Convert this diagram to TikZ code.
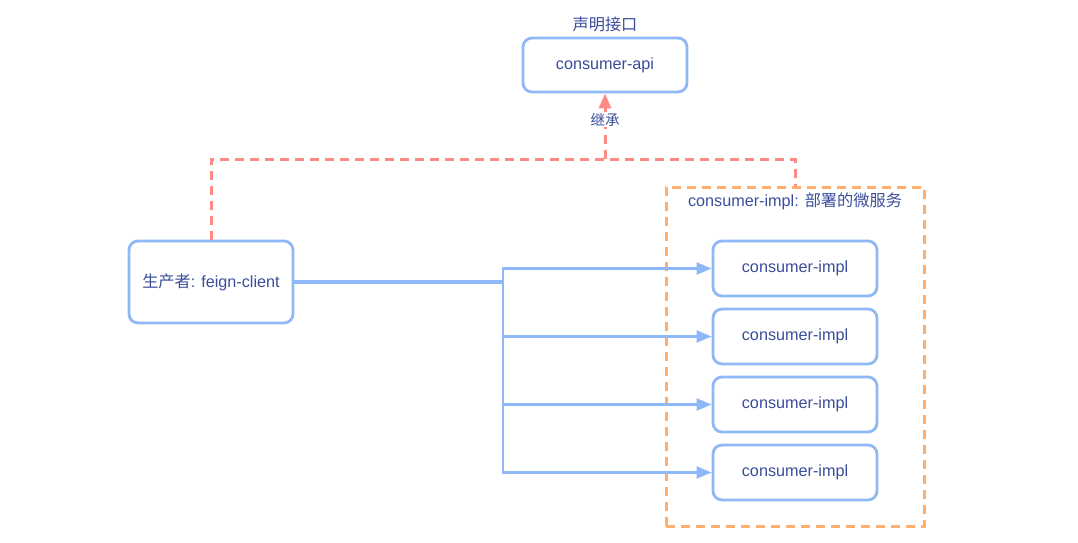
\documentclass[tikz,border=0pt]{standalone}
\usepackage{fontspec}
\setmainfont{Liberation Sans}
\newfontfamily\cjk{Noto Sans CJK SC}
\usetikzlibrary{arrows.meta,positioning}
\definecolor{bl}{HTML}{8FB8F8}
\definecolor{rd}{HTML}{FF8A85}
\definecolor{og}{HTML}{FFAE6B}
\definecolor{tx}{HTML}{3A4D9A}
\tikzset{
  box/.style={draw=bl, line width=2.8pt, rounded corners=9pt, fill=white, text=tx,
    font=\fontsize{16.2}{19}\selectfont, inner sep=0pt},
  lbl/.style={text=tx, font=\fontsize{16.2}{19}\selectfont, inner sep=1pt},
  tip/.style={-{Triangle[length=15pt,width=12pt]}},
  blink/.style={draw=bl, line width=2.6pt, tip},
  rlink/.style={draw=rd, line width=3pt, dash pattern=on 9pt off 6pt},
}
\begin{document}
\begin{tikzpicture}[x=1pt,y=-1pt]
\useasboundingbox (0,0) rectangle (1078,543);
% container
\node[draw=og, line width=3pt, dash pattern=on 9pt off 6pt, minimum width=258pt, minimum height=339pt, inner sep=0pt] (cont) at (795,356.5) {};
\node[lbl] (contl) at (795,201) {consumer-impl: {\cjk 部署的微服务}};
% nodes
\node[box, minimum width=164pt, minimum height=54pt] (api) at (605,65) {consumer-api};
\node[lbl] (apil) at (605,24) {\cjk 声明接口};
\node[box, minimum width=164pt, minimum height=82pt] (p) at (211,282) {{\cjk 生产者}: feign-client};
\node[box, minimum width=164pt, minimum height=55pt] (c1) at (795,268.5) {consumer-impl};
\node[box, minimum width=164pt, minimum height=55pt] (c2) at (795,336.5) {consumer-impl};
\node[box, minimum width=164pt, minimum height=55pt] (c3) at (795,404.5) {consumer-impl};
\node[box, minimum width=164pt, minimum height=55pt] (c4) at (795,472.5) {consumer-impl};
% blue links
\coordinate (j) at (503,282);
\draw[draw=bl, line width=3.6pt] (p.east) -- (j);
\draw[blink] (j) |- (c1.west);
\draw[blink] (j) |- (c2.west);
\draw[blink] (j) |- (c3.west);
\draw[blink] (j) |- (c4.west);
% red inheritance
\coordinate (rr) at (795,159);
\coordinate (rm) at (605,159);
\draw[rlink] (p.north) |- (rr) -- (cont.north);
\draw[rlink, tip] (rm) -- (api.south)
  node[pos=0.6, fill=white, text=tx, font=\fontsize{14.5}{16}\selectfont\cjk, inner sep=1pt] (inh) {继承};
\end{tikzpicture}
\end{document}
